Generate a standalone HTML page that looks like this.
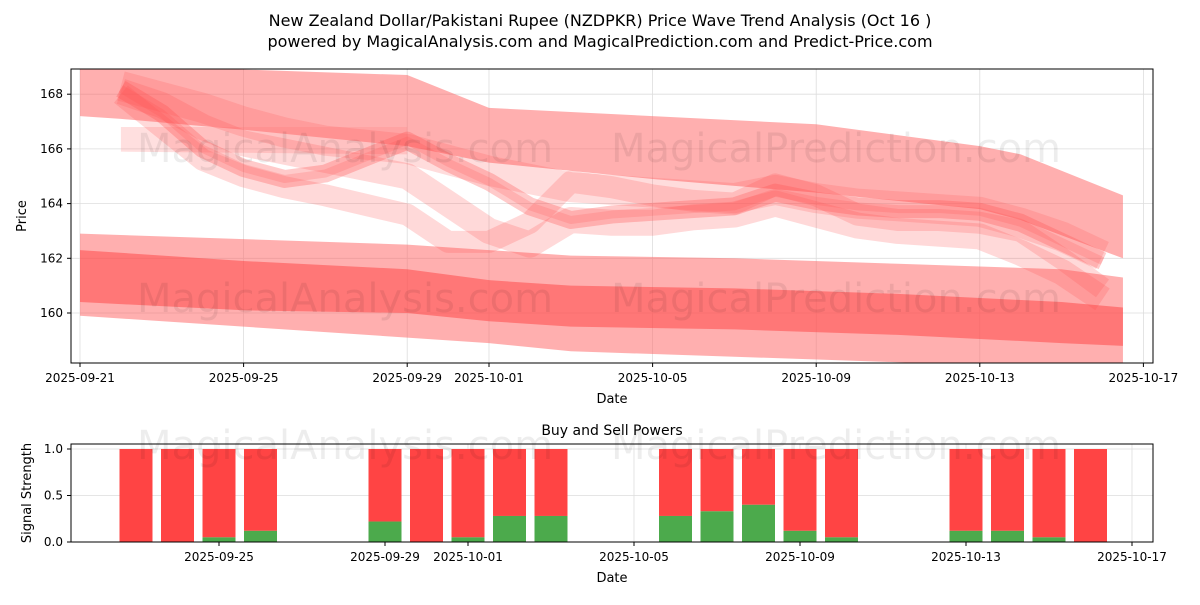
<!DOCTYPE html>
<html><head><meta charset="utf-8"><style>
body{margin:0;background:#fff;font-family:"Liberation Sans","DejaVu Sans",sans-serif;}
svg text{font-family:"DejaVu Sans","Liberation Sans",sans-serif;}
</style></head><body>
<svg id="c" width="1200" height="600" xmlns="http://www.w3.org/2000/svg"></svg>
<script>
const xTickLabels=["2025-09-21","2025-09-25","2025-09-29","2025-10-01","2025-10-05","2025-10-09","2025-10-13","2025-10-17"];
const xTickDays=[0,4,8,10,14,18,22,26];
const yTicks=[160,162,164,166,168];
const yTicks2=[0,0.5,1.0];
const bandDays=[0,4,8,10,12,16,20,24,25.5];
const lowOuterUp=[162.9,162.7,162.5,162.3,162.1,162.0,161.8,161.6,161.3];
const lowOuterDn=[159.9,159.5,159.1,158.9,158.6,158.4,158.2,158.0,158.0];
const lowInnerUp=[162.3,161.9,161.6,161.2,161.0,160.9,160.7,160.4,160.2];
const lowInnerDn=[160.4,160.1,160.0,159.7,159.5,159.4,159.2,158.9,158.8];
const topDays=[0,1,4,8,10,14,18,22,23,25.5];
const topUp=[169,169,168.9,168.7,167.5,167.2,166.9,166.1,165.8,164.3];
const topDn=[167.2,167.1,166.7,166.1,165.5,164.9,164.4,163.8,163.4,162];
const waveDays=[1,2,3,4,5,6,8,9,10,11,12,13,14,15,16,17,18,19,20,21,22,23,24,25];
const wave1=[168.2,167.3,166.0,165.3,164.9,165.1,166.3,165.5,164.8,163.9,163.4,163.6,163.7,163.8,163.9,164.4,164.1,163.9,163.8,163.8,163.7,163.3,162.6,161.9];
const wave2=[168.0,166.8,165.6,165.0,164.6,164.3,163.6,162.6,162.6,163.3,164.8,164.6,164.3,164.1,164.0,164.7,164.3,163.6,163.4,163.4,163.3,163.0,162.0,160.9];
const wave3=[168.1,167.6,166.8,166.2,165.9,165.6,165.0,164.0,163.0,162.5,163.4,163.3,163.3,163.5,163.6,164.0,163.6,163.2,163.0,162.9,162.8,162.2,161.5,160.5];
const wave4=[168.3,167.9,167.5,167.0,166.6,166.3,166.0,165.6,165.2,164.9,164.6,164.5,164.4,164.3,164.2,164.5,164.2,164.0,163.9,163.8,163.7,163.3,162.8,162.1];
const paleDays=[1,8];
const paleUp=[166.8,166.8];
const paleDn=[165.9,165.8];
const barDays=[2,3,4,5,8,9,10,11,12,15,16,17,18,19,22,23,24,25];
const buyVals=[0,0,0.05,0.12,0.22,0,0.05,0.28,0.28,0.28,0.33,0.4,0.12,0.05,0.12,0.12,0.05,0];
const svg=document.getElementById('c');const NS='http://www.w3.org/2000/svg';
function mk(t,a,p){const e=document.createElementNS(NS,t);for(const k in a)e.setAttribute(k,a[k]);(p||svg).appendChild(e);return e;}
const L=71,R=1153,T=69,B=363;
const xs=d=>80+d*40.9, ys=v=>313-(v-160)*27.35;
const xs2=d=>53+d*41.5, ys2=v=>542-v*93;
let t=mk('text',{x:600,y:26,'text-anchor':'middle','font-size':16});t.textContent="New Zealand Dollar/Pakistani Rupee (NZDPKR) Price Wave Trend Analysis (Oct 16 )";

t=mk('text',{x:600,y:47,'text-anchor':'middle','font-size':16});t.textContent="powered by MagicalAnalysis.com and MagicalPrediction.com and Predict-Price.com";

const g1=mk('g',{});
mk('defs',{}).innerHTML='<clipPath id="cp"><rect x="71" y="69" width="1082" height="294"/></clipPath>';
xTickDays.forEach((d,i)=>{const x=xs(d);mk('line',{x1:x,x2:x,y1:T,y2:B,stroke:'#ddd','stroke-width':0.8},g1);mk('line',{x1:x,x2:x,y1:B,y2:B+4,stroke:'#000'},g1);
 const tt=mk('text',{x:x,y:B+19,'text-anchor':'middle','font-size':12},g1);tt.textContent=xTickLabels[i];});
yTicks.forEach(v=>{const y=ys(v);mk('line',{x1:L,x2:R,y1:y,y2:y,stroke:'#ddd','stroke-width':0.8},g1);mk('line',{x1:L-4,x2:L,y1:y,y2:y,stroke:'#000'},g1);
 const tt=mk('text',{x:L-8,y:y+4,'text-anchor':'end','font-size':12},g1);tt.textContent=v;});
const cg=mk('g',{'clip-path':'url(#cp)'},g1);
function band(days,up,dn,fill,op,name){let p=days.map((d,i)=>xs(d)+','+ys(up[i]));p=p.concat(days.map((d,i)=>xs(d)+','+ys(dn[i])).reverse());
 const e=mk('polygon',{points:p.join(' '),fill:fill,'fill-opacity':op},cg);}
band(bandDays,lowOuterUp,lowOuterDn,'#ff6060',0.5,'lower-outer-band');
band(bandDays,lowInnerUp,lowInnerDn,'#ff4040',0.5,'lower-inner-band');
band(topDays,topUp,topDn,'#ff6060',0.5,'upper-band');
band(paleDays,paleUp,paleDn,'#ff8080',0.25,'pale-band');
function wave(vals,w,op,name){const e=mk('polyline',{points:waveDays.map((d,i)=>xs(d)+','+ys(vals[i])).join(' '),fill:'none',stroke:'#ff5050','stroke-opacity':op,'stroke-width':w,'stroke-linejoin':'round'},cg);
 }
wave(wave4,30,0.2,'wave-4');wave(wave3,26,0.22,'wave-3');wave(wave2,22,0.22,'wave-2');wave(wave1,18,0.3,'wave-1');wave(wave1,8,0.2,'wave-core');
mk('rect',{x:L,y:T,width:R-L,height:B-T,fill:'none',stroke:'#000','stroke-width':1},g1);
[[345,148],[836,148],[345,298],[836,298]].forEach((p,i)=>{const w=mk('text',{x:p[0],y:p[1]+14,'text-anchor':'middle','font-size':40,fill:'#000','fill-opacity':0.07},g1);w.textContent=i%2?"MagicalPrediction.com":"MagicalAnalysis.com";});
t=mk('text',{x:612,y:403,'text-anchor':'middle','font-size':13});t.textContent="Date";
t=mk('text',{x:26,y:216,'text-anchor':'middle','font-size':13,transform:'rotate(-90 26 216)'});t.textContent="Price";
const L2=71,R2=1153,T2=444,B2=542;
const g2=mk('g',{});
xTickDays.slice(1).forEach((d,i)=>{const x=xs2(d);mk('line',{x1:x,x2:x,y1:T2,y2:B2,stroke:'#ddd','stroke-width':0.8},g2);mk('line',{x1:x,x2:x,y1:B2,y2:B2+4,stroke:'#000'},g2);
 const tt=mk('text',{x:x,y:B2+19,'text-anchor':'middle','font-size':12},g2);tt.textContent=xTickLabels[i+1];});
yTicks2.forEach(v=>{const y=ys2(v);mk('line',{x1:L2,x2:R2,y1:y,y2:y,stroke:'#ddd','stroke-width':0.8},g2);mk('line',{x1:L2-4,x2:L2,y1:y,y2:y,stroke:'#000'},g2);
 const tt=mk('text',{x:L2-8,y:y+4,'text-anchor':'end','font-size':12},g2);tt.textContent=v.toFixed(1);});
barDays.forEach((d,i)=>{const x=xs2(d)-16.5;
 const r=mk('rect',{x:x,y:ys2(1),width:33,height:ys2(buyVals[i])-ys2(1),fill:'#ff4444'},g2);
 const gr=mk('rect',{x:x,y:ys2(buyVals[i]),width:33,height:ys2(0)-ys2(buyVals[i]),fill:'#4caa4c'},g2);});
[[345,445],[836,445]].forEach((p,i)=>{const w=mk('text',{x:p[0],y:p[1]+14,'text-anchor':'middle','font-size':40,fill:'#000','fill-opacity':0.07},g2);w.textContent=i?"MagicalPrediction.com":"MagicalAnalysis.com";});
mk('rect',{x:L2,y:T2,width:R2-L2,height:B2-T2,fill:'none',stroke:'#000','stroke-width':1},g2);
t=mk('text',{x:612,y:435,'text-anchor':'middle','font-size':14});t.textContent="Buy and Sell Powers";
t=mk('text',{x:612,y:582,'text-anchor':'middle','font-size':13});t.textContent="Date";
t=mk('text',{x:31,y:493,'text-anchor':'middle','font-size':13,transform:'rotate(-90 31 493)'});t.textContent="Signal Strength";
</script>
</body></html>
